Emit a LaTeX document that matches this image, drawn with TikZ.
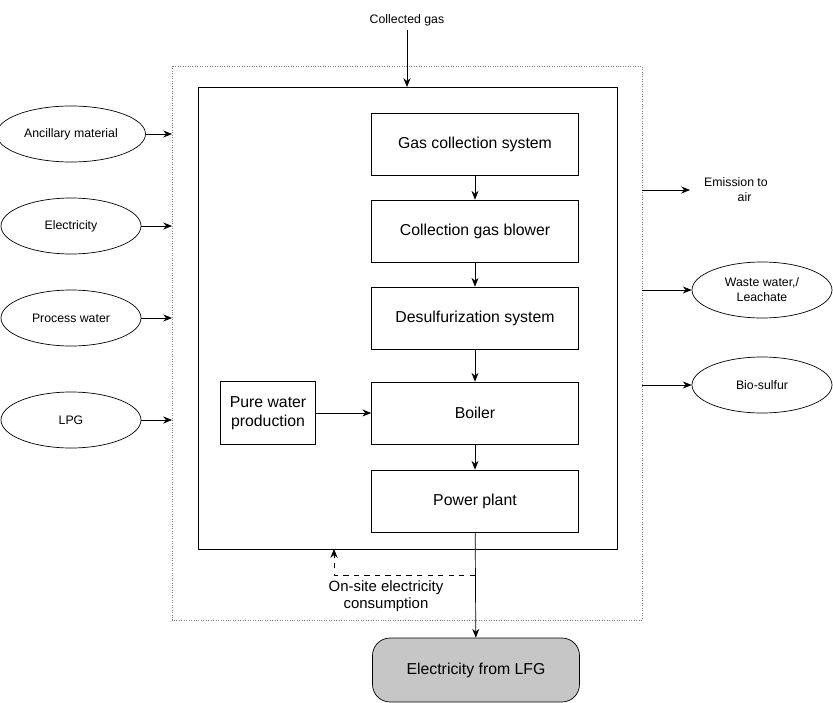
\documentclass[tikz,border=0pt]{standalone}
\usepackage{fontspec}
\setmainfont{Liberation Sans}
\usetikzlibrary{shapes.geometric,arrows.meta}
\tikzset{
  proc/.style={draw=black, minimum width=207*0.02cm, minimum height=62*0.02cm, font=\fontsize{9}{10.5}\selectfont, align=center},
  flow/.style={ellipse, draw=black, minimum width=140*0.02cm, minimum height=56*0.02cm, font=\fontsize{7}{8.5}\selectfont, align=center},
  lbl/.style={font=\fontsize{7}{8.5}\selectfont, align=center},
  arr/.style={-{Stealth[length=5pt,width=4pt]}, draw=black}
}
\begin{document}
\begin{tikzpicture}[x=0.02cm, y=-0.02cm]
\useasboundingbox (0,0) rectangle (833,703);
\draw[densely dotted, gray] (172,66) rectangle (642,620);
\draw (198,87) rectangle (617,549);
\node[lbl] (gas) at (407,20) {Collected gas};
\coordinate (gasend) at (407,87);
\draw[arr] (407,30) -- (gasend);
\node[proc] (gcs) at (475,144) {Gas collection system};
\node[proc] (blow) at (475,231) {Collection gas blower};
\node[proc] (desu) at (475,318) {Desulfurization system};
\node[proc] (boil) at (475,413) {Boiler};
\node[proc] (pp) at (475,501) {Power plant};
\node[draw=black, minimum width=95*0.02cm, minimum height=63*0.02cm, font=\fontsize{9}{10.5}\selectfont, align=center] (pure) at (268,413) {Pure water\\production};
\node[proc, rounded corners=10pt, fill=gray!45, minimum height=64*0.02cm] (lfg) at (476,670) {Electricity from LFG};
\draw[arr] (gcs) -- (blow);
\draw[arr] (blow) -- (desu);
\draw[arr] (desu) -- (boil);
\draw[arr] (boil) -- (pp);
\draw[arr] (pure) -- (boil);
\draw[arr] (pp) -- (lfg);
% inputs
\foreach \n/\t/\y in {anc/Ancillary material/134, ele/Electricity/226, pw/Process water/318, lpg/LPG/420}{
  \node[flow] (\n) at (71,\y) {\t};
  \coordinate (\n in) at (172,\y);
  \draw[arr] (\n) -- (\n in);
}
% outputs
\coordinate (emo) at (642,190);
\coordinate (emi) at (690,190);
\node[lbl, anchor=west] (emis) at (698,190) {Emission to\\\ \ \ \ \ air};
\draw[arr] (emo) -- (emi);
\node[flow] (ww) at (762,290) {Waste water,/\\Leachate};
\node[flow] (bio) at (762,385) {Bio-sulfur};
\coordinate (wwo) at (642,290);
\coordinate (bioo) at (642,385);
\draw[arr] (wwo) -- (ww);
\draw[arr] (bioo) -- (bio);
% on-site consumption
\coordinate (c1) at (475,575);
\coordinate (c2) at (334,575);
\coordinate (c3) at (334,549);
\draw[arr, dashed] (c1) -- (c2) -- (c3);
\node[lbl, font=\fontsize{8.5}{10}\selectfont, fill=white, inner sep=1pt] (ons) at (386,596) {On-site electricity\\consumption};
\end{tikzpicture}
\end{document}
